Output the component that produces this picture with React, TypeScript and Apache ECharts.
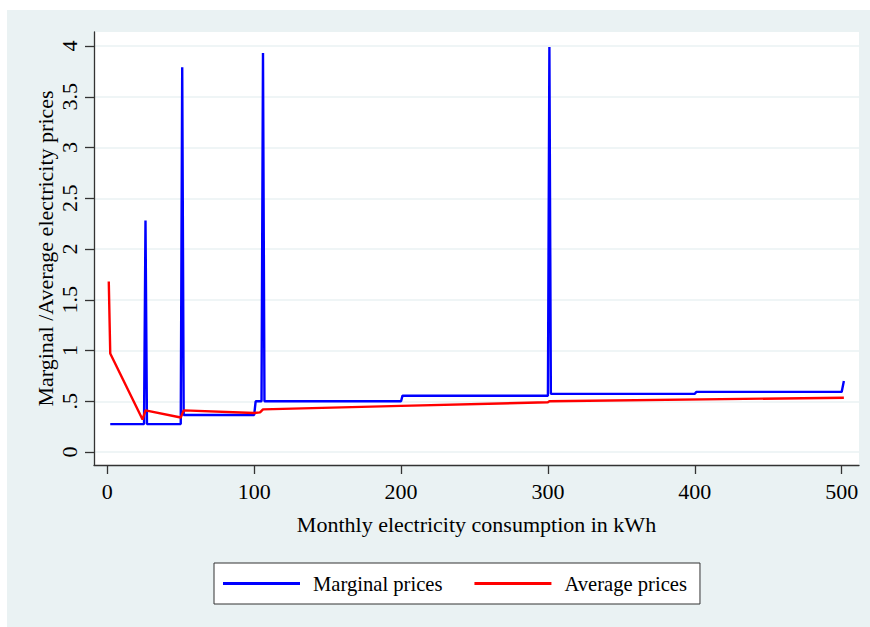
import React, { useEffect, useRef } from "react";
import * as echarts from "echarts";

const xTicks = [0, 100, 200, 300, 400, 500];
const yTicks = [0, 0.5, 1, 1.5, 2, 2.5, 3, 3.5, 4];
const yTickLabels = ["0", ".5", "1", "1.5", "2", "2.5", "3", "3.5", "4"];

const marginalKwh = [2, 25, 26, 27, 50, 51, 52, 100, 101, 105, 106, 107, 200, 201, 300, 301, 302, 400, 401, 500, 501.5];
const marginalPrice = [0.275, 0.275, 2.28, 0.275, 0.275, 3.79, 0.365, 0.365, 0.5, 0.5, 3.93, 0.5, 0.5, 0.555, 0.555, 3.99, 0.573, 0.573, 0.592, 0.592, 0.7];

const averageKwh = [1, 2, 24, 26, 50, 52, 100, 104, 106, 200, 300, 301, 501.5];
const averagePrice = [1.68, 0.97, 0.32, 0.41, 0.34, 0.41, 0.385, 0.39, 0.42, 0.455, 0.49, 0.5, 0.535];

const FONT = "'Liberation Serif', 'Times New Roman', serif";

export default function App() {
  const ref = useRef<HTMLDivElement>(null);
  useEffect(() => {
    if (!ref.current) return;
    const chart = echarts.init(ref.current, null, { renderer: "svg" });
    const marginal = marginalKwh.map((x, i) => [x, marginalPrice[i]]);
    const average = averageKwh.map((x, i) => [x, averagePrice[i]]);
    chart.setOption({
      animation: false,
      backgroundColor: "#EAF2F3",
      textStyle: { fontFamily: FONT },
      grid: {
        left: 87,
        top: 22,
        right: 11,
        bottom: 162,
        show: true,
        backgroundColor: "#ffffff",
        borderWidth: 0,
      },
      legend: {
        left: 207,
        top: 553,
        orient: "horizontal",
        backgroundColor: "#ffffff",
        borderColor: "#333333",
        borderWidth: 1,
        borderRadius: 0,
        padding: [10, 13, 10, 9],
        itemWidth: 77,
        itemHeight: 3,
        itemGap: 32,
        icon: "rect",
        textStyle: { fontFamily: FONT, fontSize: 20.6, color: "#000", padding: [0, 0, 0, 8] },
        data: ["Marginal prices", "Average prices"],
      },
      xAxis: {
        type: "value",
        min: -9.06,
        max: 511.8,
        name: "Monthly electricity consumption in kWh",
        nameLocation: "middle",
        nameGap: 48,
        nameTextStyle: { fontFamily: FONT, fontSize: 22, color: "#000" },
        axisLine: { show: true, onZero: false, lineStyle: { color: "#333", width: 1.3 } },
        axisTick: { show: true, length: 9, customValues: xTicks, lineStyle: { color: "#333", width: 1.3 } },
        axisLabel: { customValues: xTicks, margin: 15, fontFamily: FONT, fontSize: 22, color: "#000" },
        splitLine: { show: false },
      },
      yAxis: {
        type: "value",
        min: -0.128,
        max: 4.138,
        name: "Marginal /Average electricity prices",
        nameLocation: "middle",
        nameRotate: 90,
        nameGap: 38,
        nameMoveOverlap: false,
        nameTextStyle: { fontFamily: FONT, fontSize: 22, color: "#000" },
        axisLine: { show: true, onZero: false, lineStyle: { color: "#333", width: 1.3 } },
        axisTick: { show: true, length: 9, customValues: yTicks, lineStyle: { color: "#333", width: 1.3 } },
        axisLabel: {
          customValues: yTicks,
          rotate: 90,
          margin: 14,
          fontFamily: FONT,
          fontSize: 22,
          color: "#000",
          formatter: (v: number) => {
            const i = yTicks.indexOf(v);
            return i >= 0 ? yTickLabels[i] : "";
          },
        },
        splitLine: { show: true, lineStyle: { color: "#EAF2F3", width: 1.5 } },
      },
      series: [
        {
          name: "Marginal prices",
          type: "line",
          data: marginal,
          showSymbol: false,
          symbol: "none",
          color: "#0000FF",
          lineStyle: { color: "#0000FF", width: 2.4 },
        },
        {
          name: "Average prices",
          type: "line",
          data: average,
          showSymbol: false,
          symbol: "none",
          color: "#FF0000",
          lineStyle: { color: "#FF0000", width: 2.4 },
        },
      ],
    });
    return () => chart.dispose();
  }, []);
  return (
    <div
      ref={ref}
      style={{ position: "absolute", left: 7, top: 10, width: 863, height: 617 }}
    />
  );
}
